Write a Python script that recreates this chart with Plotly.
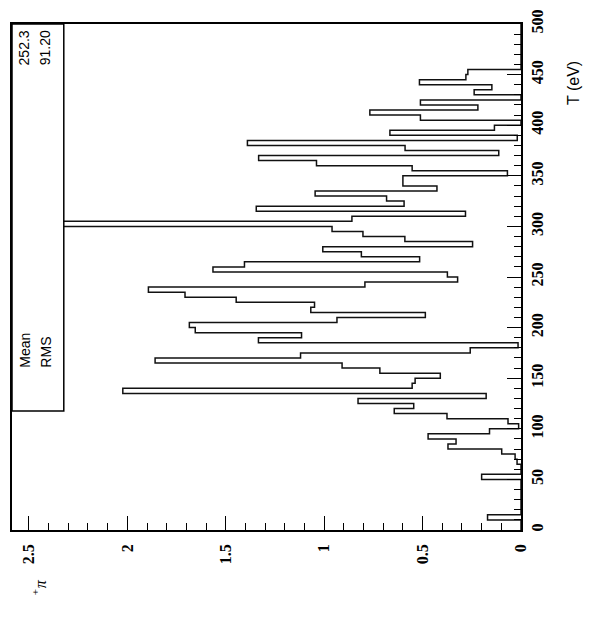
import plotly.graph_objects as go

# Histogram of T, 100 bins of 5 eV from 0 to 500 eV
bin_edges = [5 * i for i in range(101)]
counts = [
    0.0, 0.0, 0.17, 0.0, 0.0, 0.0, 0.0, 0.0, 0.0, 0.0,           # 0-50
    0.2, 0.0, 0.0, 0.02, 0.03, 0.098, 0.371, 0.33, 0.472, 0.16,  # 50-100
    0.012, 0.066, 0.376, 0.644, 0.545, 0.828, 0.177, 2.023, 0.553, 0.538,  # 100-150
    0.41, 0.717, 0.909, 1.859, 1.12, 0.258, 0.015, 1.334, 1.115, 1.655,    # 150-200
    1.685, 0.935, 0.486, 1.068, 1.049, 1.447, 1.707, 1.893, 0.793, 0.322,  # 200-250
    0.374, 1.565, 1.405, 0.515, 0.811, 1.007, 0.246, 0.59, 0.803, 0.96,    # 250-300
    4.0, 0.859, 0.282, 1.345, 0.594, 0.683, 1.046, 0.427, 0.6, 0.6,        # 300-350
    0.069, 0.553, 1.039, 1.333, 0.113, 0.589, 1.39, 0.019, 0.666, 0.135,   # 350-400
    0.0, 0.511, 0.768, 0.219, 0.511, 0.0, 0.238, 0.148, 0.516, 0.28,       # 400-450
    0.27, 0.0, 0.0, 0.0, 0.0, 0.0, 0.0, 0.0, 0.0, 0.0,                     # 450-500
]
stat_names = ["Mean", "RMS"]
stat_values = ["252.3", "91.20"]
value_ticks = [0, 0.5, 1, 1.5, 2, 2.5]
t_ticks = list(range(0, 501, 50))

# Step outline: value on the horizontal axis, T on the vertical axis
xs = [0.0] + counts + [0.0]
ys = [bin_edges[0]] + bin_edges[:-1] + [bin_edges[-1]]

fig = go.Figure()
fig.add_trace(go.Scatter(
    x=xs, y=ys, mode="lines", line=dict(shape="vh", color="#111", width=1.5),
    hoverinfo="skip", showlegend=False,
))

W, H = 600, 632
L, R, T, B = 10, 79, 20, 102
pw, ph = W - L - R, H - T - B

def px_x(x):
    return (x - L) / pw

def px_y(y):
    return (H - B - y) / ph

tickfont = dict(family="Liberation Serif", size=16, color="black", weight="bold")

fig.update_layout(
    width=W, height=H,
    margin=dict(l=L, r=R, t=T, b=B),
    paper_bgcolor="white", plot_bgcolor="white",
    xaxis=dict(
        range=[2.586, 0], showgrid=False, zeroline=False,
        showline=True, linecolor="black", linewidth=1.5, mirror=True,
        ticks="inside", ticklen=14, tickwidth=1, tickcolor="black",
        tickvals=value_ticks, tickangle=-90, tickfont=tickfont,
        minor=dict(ticks="inside", ticklen=7, dtick=0.1, tickcolor="black", tickwidth=1),
        ticklabelstandoff=6,
    ),
    yaxis=dict(
        range=[0, 500], side="right", showgrid=False, zeroline=False,
        showline=True, linecolor="black", linewidth=1.5, mirror=True,
        ticks="inside", ticklen=14, tickwidth=1, tickcolor="black",
        tickvals=t_ticks, tickangle=-90, tickfont=tickfont,
        minor=dict(ticks="inside", ticklen=7, dtick=10, tickcolor="black", tickwidth=1),
        ticklabelstandoff=1,
    ),
)

# Statistics box
fig.add_shape(type="rect", xref="paper", yref="paper",
              x0=px_x(10), x1=px_x(62), y0=px_y(410), y1=px_y(20),
              line=dict(color="black", width=1.5), fillcolor="white")
statfont = dict(family="Liberation Sans", size=14, color="black")
for i, (name, val) in enumerate(zip(stat_names, stat_values)):
    xc = 23 + 21 * i
    fig.add_annotation(xref="paper", yref="paper", x=px_x(xc), y=px_y(368),
                       text=name, textangle=-90, showarrow=False, font=statfont,
                       xanchor="center", yanchor="bottom")
    fig.add_annotation(xref="paper", yref="paper", x=px_x(xc), y=px_y(24),
                       text=val, textangle=-90, showarrow=False, font=statfont,
                       xanchor="center", yanchor="top")

# Axis titles
fig.add_annotation(xref="paper", yref="paper", x=px_x(584), y=px_y(55),
                   text="T (eV)", textangle=-90, showarrow=False,
                   font=dict(family="Liberation Sans", size=16, color="black"))
fig.add_annotation(xref="paper", yref="paper", x=px_x(25), y=px_y(598),
                   text="<i><sup>+</sup>π</i>", textangle=-90, showarrow=False,
                   font=dict(family="Liberation Serif", size=16, color="black"))

fig.write_html("out.html")
